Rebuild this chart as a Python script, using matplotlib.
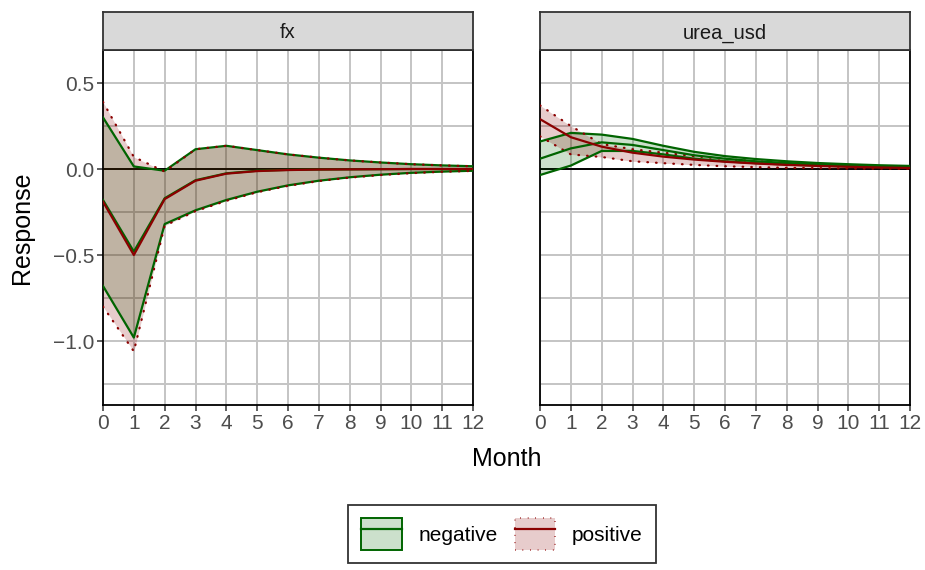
import numpy as np
import matplotlib.pyplot as plt
from matplotlib.patches import Patch
from matplotlib.lines import Line2D
from matplotlib.colors import to_rgb

plt.rcParams['font.family'] = ['Liberation Sans', 'DejaVu Sans']

month = np.arange(13)
panels = ['fx', 'urea_usd']

# fx panel
fx_neg_lo = [-0.68, -0.98, -0.32, -0.24, -0.18, -0.132, -0.095, -0.068, -0.048, -0.033, -0.022, -0.015, -0.010]
fx_neg_mid = [-0.18, -0.48, -0.17, -0.065, -0.025, -0.010, -0.005, -0.003, -0.002, -0.001, 0.0, 0.0, 0.0]
fx_neg_hi = [0.30, 0.015, -0.01, 0.115, 0.135, 0.11, 0.085, 0.066, 0.05, 0.038, 0.028, 0.021, 0.016]
fx_pos_lo = [-0.80, -1.06, -0.33, -0.245, -0.185, -0.135, -0.098, -0.07, -0.05, -0.035, -0.024, -0.016, -0.011]
fx_pos_mid = [-0.19, -0.50, -0.175, -0.068, -0.027, -0.012, -0.006, -0.003, -0.002, -0.001, 0.0, 0.0, 0.0]
fx_pos_hi = [0.39, 0.07, -0.015, 0.115, 0.135, 0.11, 0.085, 0.066, 0.05, 0.038, 0.028, 0.021, 0.016]

# urea_usd panel
ur_neg_lo = [-0.035, 0.02, 0.105, 0.105, 0.085, 0.06, 0.045, 0.034, 0.026, 0.02, 0.015, 0.011, 0.008]
ur_neg_mid = [0.06, 0.12, 0.155, 0.14, 0.11, 0.08, 0.06, 0.045, 0.035, 0.027, 0.021, 0.017, 0.013]
ur_neg_hi = [0.16, 0.21, 0.20, 0.175, 0.135, 0.10, 0.075, 0.058, 0.045, 0.035, 0.028, 0.022, 0.018]
ur_pos_lo = [0.19, 0.085, 0.07, 0.045, 0.034, 0.024, 0.016, 0.011, 0.007, 0.005, 0.003, 0.002, 0.001]
ur_pos_mid = [0.29, 0.185, 0.13, 0.095, 0.072, 0.055, 0.042, 0.032, 0.024, 0.018, 0.013, 0.009, 0.006]
ur_pos_hi = [0.37, 0.25, 0.145, 0.115, 0.095, 0.075, 0.058, 0.045, 0.035, 0.027, 0.021, 0.016, 0.012]

data = {
    'fx': {'negative': (fx_neg_lo, fx_neg_mid, fx_neg_hi),
           'positive': (fx_pos_lo, fx_pos_mid, fx_pos_hi)},
    'urea_usd': {'negative': (ur_neg_lo, ur_neg_mid, ur_neg_hi),
                 'positive': (ur_pos_lo, ur_pos_mid, ur_pos_hi)},
}

colors = {'negative': '#006400', 'positive': '#8B0000'}
styles = {'negative': '-', 'positive': (0, (0.3, 3.6))}

fig = plt.figure(figsize=(9.25, 5.7), dpi=100)
W, H = 925, 570
lefts = [103, 540]
pw = 370
top, bottom = 50, 405
strip_top = 12

for i, name in enumerate(panels):
    ax = fig.add_axes([lefts[i] / W, (H - bottom) / H, pw / W, (bottom - top) / H])
    ax.set_xlim(0, 12)
    ax.set_ylim(-1.372, 0.692)
    ax.set_xticks(month)
    ax.set_yticks([-1.0, -0.5, 0.0, 0.5])
    ax.set_yticks([-1.25, -0.75, -0.25, 0.25], minor=True)
    ax.grid(True, which='both', color='#C4C4C4', lw=1.4)
    ax.set_axisbelow(True)
    for s in ax.spines.values():
        s.set_color('black')
        s.set_linewidth(1.3)
    ax.tick_params(axis='both', which='major', length=4.5, width=1.1, color='#333333',
                   labelsize=15, labelcolor='#4D4D4D', pad=2)
    ax.tick_params(axis='y', which='minor', length=0)
    ax.yaxis.set_major_formatter(plt.FuncFormatter(lambda v, p: f'{v:.1f}'.replace('-', '\u2212')))
    if i == 1:
        ax.tick_params(axis='y', which='major', left=False, labelleft=False)

    ax.axhline(0, color='black', lw=1.4, zorder=2)
    for g in ['negative', 'positive']:
        lo, mid, hi = data[name][g]
        ax.fill_between(month, lo, hi, color=colors[g], alpha=0.2, lw=0, zorder=3)
        ax.plot(month, lo, color=colors[g], ls=styles[g], lw=1.6, zorder=4,
                dash_capstyle='round')
        ax.plot(month, hi, color=colors[g], ls=styles[g], lw=1.6, zorder=4,
                dash_capstyle='round')
    for g in ['negative', 'positive']:
        lo, mid, hi = data[name][g]
        ax.plot(month, mid, color=colors[g], lw=1.6, zorder=5)

    sax = fig.add_axes([lefts[i] / W, (H - top) / H, pw / W, (top - strip_top) / H])
    sax.set_facecolor('#D9D9D9')
    sax.set_xticks([])
    sax.set_yticks([])
    for s in sax.spines.values():
        s.set_color('#333333')
        s.set_linewidth(1.3)
    sax.text(0.5, 0.45, name, ha='center', va='center', fontsize=14.5, color='#1A1A1A',
             transform=sax.transAxes)

fig.text(22 / W, 1 - 228 / H, 'Response', rotation=90, ha='center', va='center', fontsize=18)
fig.text(507 / W, 1 - 459 / H, 'Month', ha='center', va='center', fontsize=18)

handles = []
for g in ['negative', 'positive']:
    p = Patch(facecolor=(*to_rgb(colors[g]), 0.2), edgecolor=colors[g], lw=1.4,
              ls=styles[g], capstyle='round')
    l = Line2D([], [], color=colors[g], lw=1.6)
    handles.append((p, l))
leg = fig.legend(handles, ['negative', 'positive'], loc='center', bbox_to_anchor=(502 / W, 1 - 534 / H),
                 ncol=2, fontsize=15, frameon=True, fancybox=False, edgecolor='black',
                 handlelength=1.95, handleheight=1.95, columnspacing=0.8, handletextpad=0.8,
                 borderpad=0.65, borderaxespad=0)
leg.get_frame().set_linewidth(1.3)

fig.savefig('out.png', dpi=100)
